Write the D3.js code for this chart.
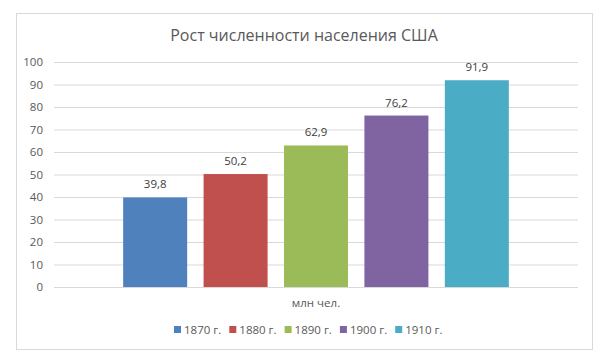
<!DOCTYPE html>
<html><head><meta charset="utf-8">
<script src="https://cdn.jsdelivr.net/npm/d3@7"></script>
<style>body{margin:0;background:#fff}svg{display:block;font-family:"Open Sans","Liberation Sans",sans-serif}</style>
</head><body>
<svg id="c" width="610" height="357"></svg>
<script>
const title = "Рост численности населения США";
const seriesNames = ["1870 г.", "1880 г.", "1890 г.", "1900 г.", "1910 г."];
const values = [39.8, 50.2, 62.9, 76.2, 91.9];
const valueLabels = ["39,8", "50,2", "62,9", "76,2", "91,9"];
const category = "млн чел.";
const yTicks = [0, 10, 20, 30, 40, 50, 60, 70, 80, 90, 100];
const colors = ["#4f81bd", "#c0504d", "#9bbb59", "#8064a2", "#4bacc6"];

const svg = d3.select("#c");
const txt = "#595959";

svg.append("rect").attr("x", 16.5).attr("y", 13.5).attr("width", 576).attr("height", 336)
  .attr("fill", "#fff").attr("stroke", "#d9d9d9");

svg.append("text").attr("x", 304).attr("y", 41).attr("text-anchor", "middle")
  .attr("font-size", 16).attr("fill", txt).text(title);

const y = d3.scaleLinear().domain([0, 100]).range([287, 62]);
const x = d3.scaleBand().domain(seriesNames).range([54, 578]).paddingInner(0.204).paddingOuter(0.86);

const yAxis = svg.append("g").attr("transform", "translate(54,0)")
  .call(d3.axisLeft(y).tickValues(yTicks).tickSize(-524).tickPadding(11).tickFormat(d3.format("d")));
yAxis.select(".domain").remove();
yAxis.selectAll("line").attr("stroke", "#d9d9d9");
yAxis.selectAll("text").attr("fill", txt).attr("font-size", 11.5).attr("font-family", "'Open Sans','Liberation Sans',sans-serif");

svg.selectAll("rect.bar").data(values).enter().append("rect").attr("class", "bar")
  .attr("x", (d, i) => x(seriesNames[i])).attr("width", x.bandwidth())
  .attr("y", d => y(d)).attr("height", d => y(0) - y(d))
  .attr("fill", (d, i) => colors[i]);

svg.selectAll("text.vl").data(values).enter().append("text").attr("class", "vl")
  .attr("x", (d, i) => x(seriesNames[i]) + x.bandwidth() / 2)
  .attr("y", d => y(d) - 9).attr("text-anchor", "middle")
  .attr("font-size", 11.5).attr("fill", "#404040").text((d, i) => valueLabels[i]);

svg.append("text").attr("x", 316).attr("y", 307).attr("text-anchor", "middle")
  .attr("font-size", 11.5).attr("fill", txt).text(category);

const lg = svg.append("g");
const items = lg.selectAll("g").data(seriesNames).enter().append("g")
  .attr("transform", (d, i) => `translate(${174 + i * 55.3},0)`);
items.append("rect").attr("x", 0).attr("y", 326).attr("width", 7).attr("height", 7)
  .attr("fill", (d, i) => colors[i]);
items.append("text").attr("x", 10).attr("y", 334).attr("font-size", 11.5).attr("fill", txt).text(d => d);
</script>
</body></html>
